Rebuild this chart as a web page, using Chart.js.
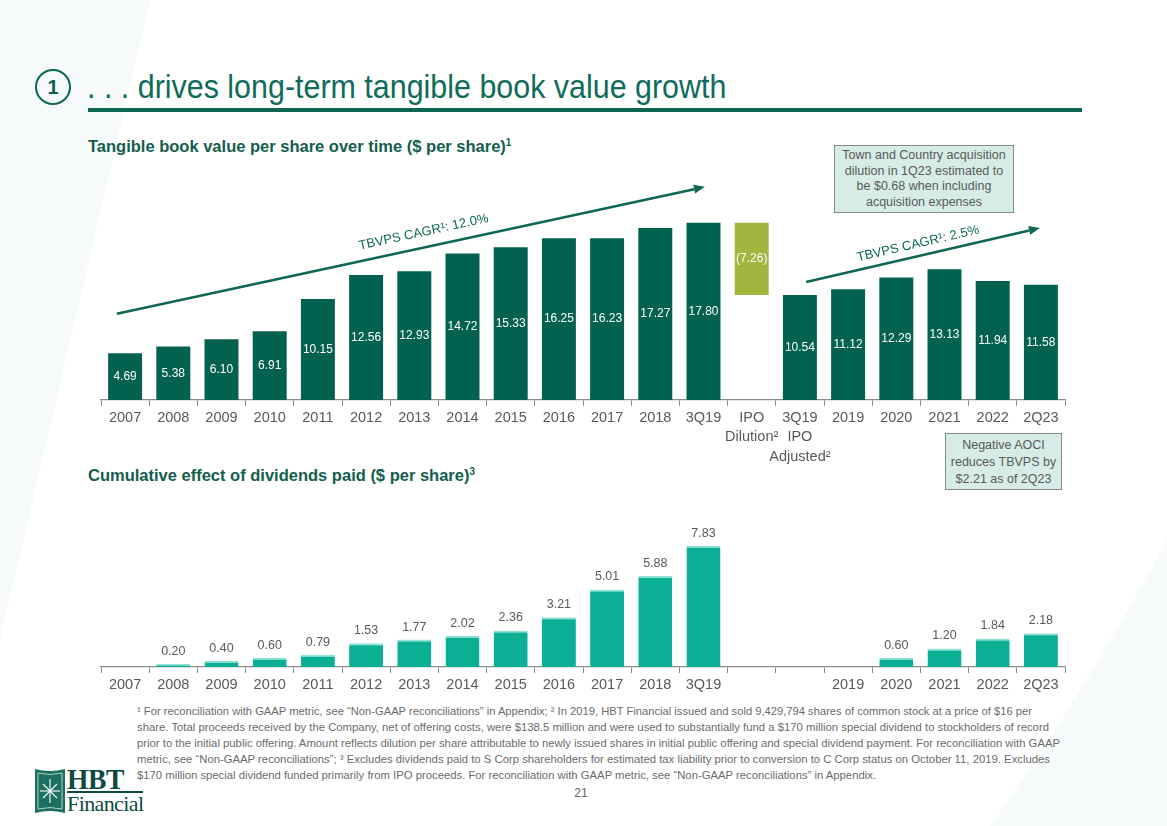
<!DOCTYPE html>
<html><head><meta charset="utf-8">
<script src="https://cdn.jsdelivr.net/npm/chart.js@4.4.1/dist/chart.umd.min.js"></script>
<style>
html,body{margin:0;padding:0;}
body{width:1167px;height:826px;position:relative;overflow:hidden;background:#fff;font-family:'Liberation Sans',Arial,sans-serif;}
.abs{position:absolute;}
.box{position:absolute;background:#D7ECE7;border:1px solid #8a8a8a;color:#595959;text-align:center;font-size:12.5px;box-sizing:border-box;}
.fn{position:absolute;left:137px;white-space:nowrap;font-size:11px;line-height:16px;color:#6b6b6b;transform-origin:left center;}
</style></head><body>
<svg class="abs" style="left:0;top:0" width="1167" height="826">
  <polygon points="0,0 150,0 0,640" fill="#F7FAFB"/>
  <path d="M1167,540 Q1080,700 990,826 L1167,826 Z" fill="#F7FAFB"/>
</svg>

<div class="abs" style="left:35px;top:69px;width:36px;height:36px;box-sizing:border-box;border:2.2px solid #0E6655;border-radius:50%;text-align:center;line-height:32px;font-size:20px;font-weight:bold;color:#0E5E50;">1</div>
<div class="abs" style="left:87px;top:69px;font-size:34px;line-height:34px;color:#0F6B5A;white-space:nowrap;transform:scaleX(0.895);transform-origin:left center;">. . . drives long-term tangible book value growth</div>
<div class="abs" style="left:88px;top:108px;width:994px;height:4px;background:#0E6655;"></div>

<div class="abs" style="left:88px;top:138px;font-size:16.5px;line-height:16px;font-weight:bold;color:#135D4D;white-space:nowrap;">Tangible book value per share over time ($ per share)<sup style="font-size:10px;vertical-align:6px;line-height:0">1</sup></div>
<div class="abs" style="left:88px;top:467px;font-size:16.5px;line-height:16px;font-weight:bold;color:#135D4D;white-space:nowrap;">Cumulative effect of dividends paid ($ per share)<sup style="font-size:10px;vertical-align:6px;line-height:0">3</sup></div>

<canvas id="top" class="abs" style="left:91px;top:151px" width="984" height="320"></canvas>
<canvas id="bottom" class="abs" style="left:91px;top:520px" width="984" height="177"></canvas>

<div class="box" style="left:834px;top:145px;width:180px;height:68px;line-height:15.5px;padding-top:2px;">Town and Country acquisition<br>dilution in 1Q23 estimated to<br>be $0.68 when including<br>acquisition expenses</div>
<div class="box" style="left:945px;top:433px;width:117px;height:57px;line-height:17px;padding-top:3px;">Negative AOCI<br>reduces TBVPS by<br>$2.21 as of 2Q23</div>

<div id="fnwrap">
<div class="fn" style="top:703px" data-w="895">¹ For reconciliation with GAAP metric, see “Non-GAAP reconciliations” in Appendix; ² In 2019, HBT Financial issued and sold 9,429,794 shares of common stock at a price of $16 per</div>
<div class="fn" style="top:719px" data-w="912">share. Total proceeds received by the Company, net of offering costs, were $138.5 million and were used to substantially fund a $170 million special dividend to stockholders of record</div>
<div class="fn" style="top:735px" data-w="923">prior to the initial public offering. Amount reflects dilution per share attributable to newly issued shares in initial public offering and special dividend payment. For reconciliation with GAAP</div>
<div class="fn" style="top:751px" data-w="913">metric, see “Non-GAAP reconciliations”; ³ Excludes dividends paid to S Corp shareholders for estimated tax liability prior to conversion to C Corp status on October 11, 2019. Excludes</div>
<div class="fn" style="top:767px" data-w="739">$170 million special dividend funded primarily from IPO proceeds. For reconciliation with GAAP metric, see “Non-GAAP reconciliations” in Appendix.</div>
</div>
<div class="abs" style="left:561px;top:786px;width:40px;text-align:center;font-size:12px;color:#666;">21</div>

<svg class="abs" style="left:34px;top:767px" width="34" height="48">
  <path d="M1,2 Q16,6 31,2 L31,46 Q16,42 1,46 Z" fill="#1D6F60"/>
  <path d="M4,6 Q16,9 28,6 L28,42 Q16,39 4,42 Z" fill="none" stroke="#CFE7E0" stroke-width="0.8"/>
  <g stroke="#fff" stroke-width="1.1">
    <line x1="16" y1="12" x2="16" y2="36"/><line x1="6" y1="24" x2="26" y2="24"/>
    <line x1="9" y1="17" x2="23" y2="31"/><line x1="23" y1="17" x2="9" y2="31"/>
  </g>
</svg>
<div class="abs" style="left:67px;top:764px;font-family:'Liberation Serif',serif;font-size:30px;line-height:29px;font-weight:bold;color:#0F4A40;letter-spacing:-0.5px;transform:scaleX(0.92);transform-origin:left center;">HBT</div>
<div class="abs" style="left:67px;top:791px;width:76px;height:1.5px;background:#0F4A40;"></div>
<div class="abs" style="left:67px;top:793px;font-family:'Liberation Serif',serif;font-size:22px;line-height:22px;color:#0F4A40;letter-spacing:-0.6px;">Financial</div>

<script>
// ---------- data ----------
const tbvpsCategories = ['2007','2008','2009','2010','2011','2012','2013','2014','2015','2016','2017','2018','3Q19',['IPO','Dilution²'],['3Q19','IPO','Adjusted²'],'2019','2020','2021','2022','2Q23'];
const tbvpsValues = [4.69,5.38,6.10,6.91,10.15,12.56,12.93,14.72,15.33,16.25,16.23,17.27,17.80,null,10.54,11.12,12.29,13.13,11.94,11.58];
const ipoDilution = 7.26;
const ipoIndex = 13;

const dividendCategories = ['2007','2008','2009','2010','2011','2012','2013','2014','2015','2016','2017','2018','3Q19','','','2019','2020','2021','2022','2Q23'];
const dividendValues = [null,0.20,0.40,0.60,0.79,1.53,1.77,2.02,2.36,3.21,5.01,5.88,7.83,null,null,null,0.60,1.20,1.84,2.18];

const cagrTexts = ['TBVPS CAGR¹: 12.0%','TBVPS CAGR¹: 2.5%'];
// arrows in data space: [category index, value]
const cagrArrows = [
  {from:[-0.17, 8.65], to:[12.03, 21.4], t:0.527, off:15},
  {from:[14.13, 11.85], to:[18.98, 17.27], t:0.49, off:12}
];

// ---------- styles ----------
const C_DARK = '#02624F', C_DIL = '#A3B53E', C_LIGHT = '#0AAF95', C_EDGE = '#8FE3D6';
const AXIS = '#8c8c8c', TXT = '#595959', ARROW = '#0E6655';
const FONT = "'Liberation Sans', Arial, sans-serif";

const topData = tbvpsValues.map((v,i)=> i===ipoIndex ? [tbvpsValues[ipoIndex-1]-ipoDilution, tbvpsValues[ipoIndex-1]] : v);
const topColors = tbvpsValues.map((v,i)=> i===ipoIndex ? C_DIL : C_DARK);
const topText = tbvpsValues.map((v,i)=> i===ipoIndex ? '('+ipoDilution.toFixed(2)+')' : (v==null?'':v.toFixed(2)));

function xAxis(h){
  return {
    type:'category', offset:true,
    grid:{display:true, offset:true, drawOnChartArea:false, drawTicks:true, tickLength:6, color:AXIS, lineWidth:1},
    border:{display:true, color:AXIS, width:1.3},
    ticks:{color:TXT, font:{family:FONT, size:14.5, lineHeight:1.35}, padding:2, maxRotation:0, autoSkip:false},
    afterFit:(s)=>{ s.height = h; }
  };
}

const insideLabels = {
  id:'insideLabels',
  afterDatasetsDraw(chart){
    const ctx = chart.ctx; const meta = chart.getDatasetMeta(0);
    ctx.save(); ctx.fillStyle='#fff'; ctx.font = '12px '+FONT; ctx.textAlign='center'; ctx.textBaseline='middle';
    meta.data.forEach((bar,i)=>{ const s=topText[i]; if(!s) return; ctx.fillText(s, bar.x, (bar.y+bar.base)/2); });
    ctx.restore();
  }
};
const cagrPlugin = {
  id:'cagr',
  afterDatasetsDraw(chart){
    const ctx = chart.ctx, xs = chart.scales.x, ys = chart.scales.y;
    cagrArrows.forEach((a,k)=>{
      const x0=xs.getPixelForValue(a.from[0]), y0=ys.getPixelForValue(a.from[1]);
      const x1=xs.getPixelForValue(a.to[0]), y1=ys.getPixelForValue(a.to[1]);
      const ang=Math.atan2(y1-y0,x1-x0), hl=11, hw=4.5;
      const bx=x1-hl*Math.cos(ang), by=y1-hl*Math.sin(ang);
      ctx.save(); ctx.strokeStyle=ARROW; ctx.fillStyle=ARROW; ctx.lineWidth=2.5;
      ctx.beginPath(); ctx.moveTo(x0,y0); ctx.lineTo(bx,by); ctx.stroke();
      ctx.beginPath(); ctx.moveTo(x1,y1);
      ctx.lineTo(bx+hw*Math.sin(ang), by-hw*Math.cos(ang));
      ctx.lineTo(bx-hw*Math.sin(ang), by+hw*Math.cos(ang)); ctx.closePath(); ctx.fill();
      const tx=x0+(x1-x0)*a.t + a.off*Math.sin(ang), ty=y0+(y1-y0)*a.t - a.off*Math.cos(ang);
      ctx.translate(tx,ty); ctx.rotate(ang); ctx.font='13px '+FONT; ctx.textAlign='center'; ctx.textBaseline='middle';
      ctx.fillText(cagrTexts[k],0,0); ctx.restore();
    });
  }
};
const aboveLabels = {
  id:'aboveLabels',
  afterDatasetsDraw(chart){
    const ctx = chart.ctx; const meta = chart.getDatasetMeta(0);
    ctx.save(); ctx.fillStyle=TXT; ctx.font='12.5px '+FONT; ctx.textAlign='center'; ctx.textBaseline='middle';
    meta.data.forEach((bar,i)=>{ const v=dividendValues[i]; if(v==null) return; ctx.fillText(v.toFixed(2), bar.x, bar.y-12.5); });
    ctx.restore();
  }
};

new Chart(document.getElementById('top'),{
  type:'bar',
  data:{labels:tbvpsCategories, datasets:[{data:topData, backgroundColor:topColors, borderWidth:0, categoryPercentage:1, barPercentage:0.705}]},
  options:{responsive:false, animation:false, devicePixelRatio:1,
    layout:{padding:{left:10,right:10,top:0,bottom:0}},
    plugins:{legend:{display:false}, tooltip:{enabled:false}},
    scales:{x:xAxis(71), y:{display:false, min:0, max:25}}},
  plugins:[insideLabels, cagrPlugin]
});
new Chart(document.getElementById('bottom'),{
  type:'bar',
  data:{labels:dividendCategories, datasets:[{data:dividendValues, backgroundColor:C_LIGHT, borderColor:C_EDGE, borderWidth:{top:2,left:0,right:0,bottom:0}, borderSkipped:'bottom', categoryPercentage:1, barPercentage:0.705}]},
  options:{responsive:false, animation:false, devicePixelRatio:1,
    layout:{padding:{left:10,right:10,top:0,bottom:0}},
    plugins:{legend:{display:false}, tooltip:{enabled:false}},
    scales:{x:xAxis(30), y:{display:false, min:0, max:9.5}}},
  plugins:[aboveLabels]
});

document.querySelectorAll('.fn').forEach(el=>{
  const w = el.getBoundingClientRect().width; const target = +el.dataset.w;
  el.style.transform = 'scaleX('+(target/w)+')';
});
</script>
</body></html>
